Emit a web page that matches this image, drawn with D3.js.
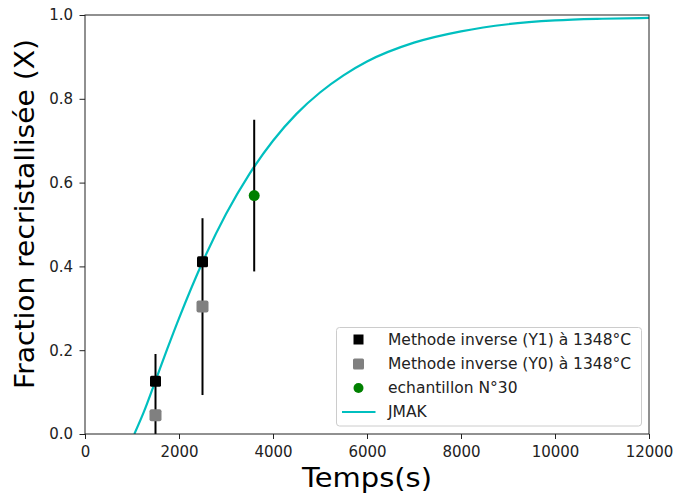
<!DOCTYPE html>
<html><head><meta charset="utf-8">
<script src="https://cdn.jsdelivr.net/npm/d3@7"></script>
<style>body{margin:0;background:#fff}svg{display:block}text{font-family:"DejaVu Sans",sans-serif}</style>
</head><body><svg id="c" width="673" height="495"></svg>
<script>
// data
const y1Times = [1500, 2500];
const y1Values = [0.126, 0.411];
const y0Times = [1500, 2500];
const y0Values = [0.045, 0.304];
const y0Errors = [0.146, 0.211];
const echTimes = [3600];
const echValues = [0.569];
const echErrors = [0.181];
const jmakTimes = [1050, 1250, 1500, 1750, 2000, 2500, 3000, 3500, 4000, 4500, 5000, 5500, 6000, 7000, 8000, 9000, 10000, 11000, 12000];
const jmakValues = [0, 0.052, 0.127, 0.203, 0.276, 0.41, 0.525, 0.621, 0.700, 0.764, 0.815, 0.856, 0.889, 0.934, 0.961, 0.978, 0.987, 0.991, 0.993];
const xTicks = [0, 2000, 4000, 6000, 8000, 10000, 12000];
const yTicks = [0, 0.2, 0.4, 0.6, 0.8, 1.0];
const legendLabels = ["Methode inverse (Y1) à 1348°C", "Methode inverse (Y0) à 1348°C", "echantillon N°30", "JMAK"];

const L = 85, R = 649, T = 15, B = 434;
const svg = d3.select("#c");
const x = d3.scaleLinear().domain([0, 12000]).range([L, R]);
const y = d3.scaleLinear().domain([0, 1]).range([B, T]);

svg.append("defs").append("clipPath").attr("id","clip").append("rect")
  .attr("x", L).attr("y", T).attr("width", R-L).attr("height", B-T);
const plot = svg.append("g").attr("clip-path","url(#clip)");

// JMAK curve
plot.append("path")
  .datum(jmakTimes.map((t,i)=>[t, jmakValues[i]]))
  .attr("d", d3.line().x(d=>x(d[0])).y(d=>y(d[1])).curve(d3.curveMonotoneX))
  .attr("fill","none").attr("stroke","#00bfbf").attr("stroke-width",2.2);

// error bars (black)
const errs = y0Times.map((t,i)=>({t, v:y0Values[i], e:y0Errors[i]}))
  .concat(echTimes.map((t,i)=>({t, v:echValues[i], e:echErrors[i]})));
plot.selectAll("line.err").data(errs).enter().append("line")
  .attr("x1", d=>x(d.t)).attr("x2", d=>x(d.t))
  .attr("y1", d=>y(d.v - d.e)).attr("y2", d=>y(d.v + d.e))
  .attr("stroke","#000").attr("stroke-width",2);

const sq = 11;
// Y1 black squares
svg.selectAll("rect.y1").data(y1Times.map((t,i)=>[t,y1Values[i]])).enter().append("rect")
  .attr("x", d=>x(d[0])-sq/2).attr("y", d=>y(d[1])-sq/2).attr("width", sq).attr("height", sq)
  .attr("rx",1.5).attr("fill","#000");
// Y0 gray squares
svg.selectAll("rect.y0").data(y0Times.map((t,i)=>[t,y0Values[i]])).enter().append("rect")
  .attr("x", d=>x(d[0])-sq/2-0.5).attr("y", d=>y(d[1])-sq/2-0.5).attr("width", sq+1).attr("height", sq+1)
  .attr("rx",2).attr("fill","#808080");
// echantillon
svg.selectAll("circle.ech").data(echTimes.map((t,i)=>[t,echValues[i]])).enter().append("circle")
  .attr("cx", d=>x(d[0])).attr("cy", d=>y(d[1])).attr("r", 5.5).attr("fill","#008000");

// axes
const xAxis = svg.append("g").attr("transform",`translate(0,${B})`)
  .call(d3.axisBottom(x).tickValues(xTicks).tickFormat(d3.format("d")).tickSizeOuter(0).tickSize(5).tickPadding(7.5));
const yAxis = svg.append("g").attr("transform",`translate(${L},0)`)
  .call(d3.axisLeft(y).tickValues(yTicks).tickFormat(d3.format(".1f")).tickSizeOuter(0).tickSize(5.5).tickPadding(6.5));
[xAxis,yAxis].forEach(a=>{
  a.selectAll("text").attr("font-size",15).attr("fill","#222").attr("font-family","DejaVu Sans");
  a.selectAll("line").attr("stroke","#222");
  a.select(".domain").remove();
});
// frame
svg.append("rect").attr("x",L).attr("y",T).attr("width",R-L).attr("height",B-T)
  .attr("fill","none").attr("stroke","#222").attr("stroke-width",1);

// labels
svg.append("text").attr("x",367).attr("y",487).attr("text-anchor","middle")
  .attr("font-size",27).attr("fill","#000")
  .attr("textLength",130).attr("lengthAdjust","spacingAndGlyphs").text("Temps(s)");
svg.append("text").attr("transform",`translate(33.5,214) rotate(-90)`).attr("text-anchor","middle")
  .attr("font-size",26).attr("fill","#000")
  .attr("textLength",350).attr("lengthAdjust","spacingAndGlyphs").text("Fraction recristallisée (X)");

// legend
const lg = svg.append("g");
lg.append("rect").attr("x",336.5).attr("y",327.5).attr("width",305).attr("height",98.5)
  .attr("rx",3).attr("fill","#fff").attr("fill-opacity",0.8).attr("stroke","#ccc");
const rowsY = [339.5, 364, 388, 412];
legendLabels.forEach((lab,i)=>{
  const yy = rowsY[i];
  if (i===0) lg.append("rect").attr("x",358.5-5).attr("y",yy-5).attr("width",10).attr("height",10).attr("fill","#000");
  if (i===1) lg.append("rect").attr("x",358.5-5.5).attr("y",yy-5.5).attr("width",11).attr("height",11).attr("rx",1.5).attr("fill","#808080");
  if (i===2) lg.append("circle").attr("cx",358.5).attr("cy",yy).attr("r",5).attr("fill","#008000");
  if (i===3) lg.append("line").attr("x1",342).attr("x2",375.5).attr("y1",yy).attr("y2",yy).attr("stroke","#00bfbf").attr("stroke-width",2.2);
  lg.append("text").attr("x",388).attr("y",yy).attr("dy","0.35em").attr("font-size",15.5).attr("fill","#222").text(lab);
});
</script></body></html>
